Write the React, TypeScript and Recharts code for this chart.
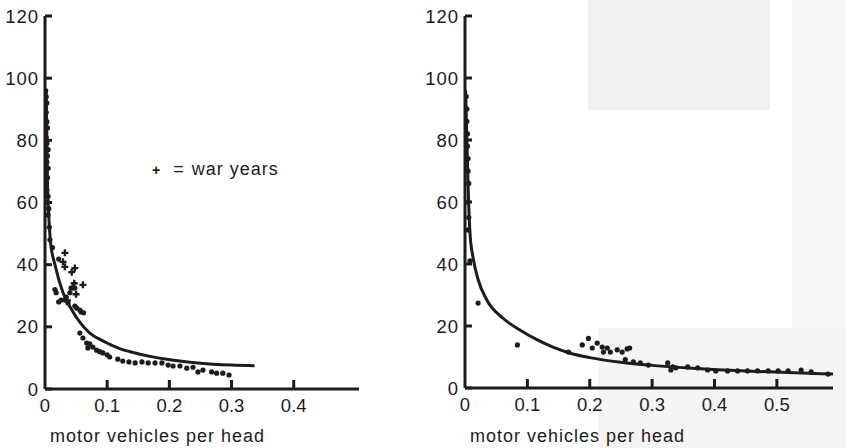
import { ScatterChart, Scatter, XAxis, YAxis } from 'recharts';

const INK = '#1c1c1c';
const FONT = '"Liberation Sans", Arial, Helvetica, sans-serif';

const yTicks = [0, 20, 40, 60, 80, 100, 120];
const leftXTicks = [0, 0.1, 0.2, 0.3, 0.4];
const rightXTicks = [0, 0.1, 0.2, 0.3, 0.4, 0.5];
const axisTitle = 'motor vehicles per head';
const legendLabel = 'war years';

// fitted curve, left panel
const leftCurve: [number, number][] = [
  [0.002, 96], [0.003, 80], [0.004, 66], [0.006, 56], [0.009, 47], [0.016, 40],
  [0.029, 31], [0.043, 25.5], [0.056, 21.5], [0.072, 18], [0.09, 15.8], [0.104, 14.4],
  [0.12, 13], [0.137, 12], [0.169, 10.5], [0.201, 9.4], [0.233, 8.6], [0.27, 8],
  [0.3, 7.7], [0.337, 7.5],
];

// peacetime years, left panel
const leftDots: [number, number][] = [
  [0.001, 96], [0.002, 94], [0.003, 92], [0.002, 89], [0.003, 86], [0.004, 84],
  [0.002, 81], [0.003, 79], [0.005, 77], [0.004, 75], [0.003, 73], [0.005, 71],
  [0.004, 68], [0.002, 66], [0.003, 64], [0.005, 62], [0.004, 60], [0.006, 58],
  [0.005, 56], [0.007, 52], [0.008, 48], [0.012, 45.5],
  [0.022, 41.8], [0.016, 32], [0.018, 31], [0.042, 32.5], [0.048, 32.5], [0.04, 31],
  [0.034, 29.6], [0.026, 28.6], [0.022, 28], [0.032, 28.6], [0.037, 27.7],
  [0.048, 26.7], [0.051, 26], [0.058, 24.8], [0.056, 25.4], [0.062, 24.5],
  [0.056, 18], [0.061, 16.4], [0.067, 14.8], [0.069, 13.2], [0.072, 14.5],
  [0.077, 13.5], [0.083, 12.5], [0.088, 12], [0.093, 11.6], [0.1, 11], [0.104, 10.3],
  [0.117, 9.6], [0.125, 9], [0.135, 8.7], [0.145, 8.4], [0.156, 8.7], [0.166, 8.4],
  [0.177, 8.4], [0.188, 8.4], [0.198, 7.7], [0.206, 7.4], [0.217, 7.4], [0.228, 6.7],
  [0.238, 7], [0.246, 5.5], [0.254, 6.1], [0.268, 5.5], [0.276, 5.1], [0.286, 5.1],
  [0.296, 4.5],
];

// war years, left panel
const leftWarYears: [number, number][] = [
  [0.029, 40.9], [0.032, 43.8], [0.032, 39.3], [0.043, 37.6], [0.048, 38.9],
  [0.061, 33.5], [0.045, 32.8], [0.05, 30.5], [0.036, 28.5], [0.047, 34],
];

// fitted curve, right panel
const rightCurve: [number, number][] = [
  [0.001, 96], [0.003, 80], [0.005, 65], [0.008, 50], [0.013, 42], [0.021, 35],
  [0.035, 28.4], [0.061, 22.5], [0.088, 18.7], [0.116, 15.5], [0.142, 13.1],
  [0.169, 11.2], [0.2, 9.8], [0.25, 8.3], [0.3, 7.3], [0.37, 6.3], [0.45, 5.5],
  [0.53, 4.9], [0.59, 4.5],
];

const rightDots: [number, number][] = [
  [0.002, 94], [0.003, 90], [0.003, 86], [0.004, 82], [0.004, 78], [0.005, 74],
  [0.005, 70], [0.006, 66], [0.004, 60], [0.006, 55], [0.005, 51], [0.008, 41],
  [0.021, 27.4], [0.084, 13.9], [0.166, 11.6], [0.198, 16], [0.188, 13.9],
  [0.204, 12.9], [0.212, 14.5], [0.22, 13.2], [0.228, 12.9], [0.233, 11.6],
  [0.222, 11.6], [0.244, 12.3], [0.252, 11.6], [0.26, 12.6], [0.264, 12.9],
  [0.257, 9.2], [0.27, 8.4], [0.281, 8.1], [0.294, 7.4], [0.325, 8.1],
  [0.333, 6.8], [0.33, 5.8], [0.338, 6.5], [0.357, 6.8], [0.373, 6.5],
  [0.389, 5.8], [0.402, 5.5], [0.421, 5.5], [0.437, 5.5], [0.453, 5.5],
  [0.469, 5.5], [0.486, 5.5], [0.502, 5.5], [0.518, 5.5], [0.539, 5.8],
  [0.555, 5.2], [0.582, 4.5],
];

const toPts = (rows: [number, number][]) => rows.map(([x, y]) => ({ x, y }));

function YTick({ x, y, payload }: any) {
  return (
    <g>
      <line x1={x + 6} x2={x + 13} y1={y} y2={y} stroke={INK} strokeWidth={3} />
      <text x={x} y={y} dy="0.36em" textAnchor="end" fontSize={18.5} letterSpacing={1}
        fill={INK} fontFamily={FONT}>
        {payload.value}
      </text>
    </g>
  );
}

function XTick({ x, y, payload }: any) {
  return (
    <g>
      {payload.value !== 0 && (
        <line x1={x} x2={x} y1={y - 9} y2={y - 18} stroke={INK} strokeWidth={3} />
      )}
      <text x={x} y={y} dy={14} textAnchor="middle" fontSize={18.5} fill={INK} fontFamily={FONT}>
        {payload.value}
      </text>
    </g>
  );
}

function AxisTitle(props: any) {
  const vb = props.viewBox || {};
  return (
    <text x={vb.x + 5} y={vb.y + vb.height - 6} fontSize={18} letterSpacing={1}
      fill={INK} fontFamily={FONT}>
      {axisTitle}
    </text>
  );
}

const Dot = (p: any) => <circle cx={p.cx} cy={p.cy} r={2.6} fill={INK} />;
const Cross = (p: any) => (
  <path d={`M${p.cx - 3.5},${p.cy}H${p.cx + 3.5}M${p.cx},${p.cy - 3.5}V${p.cy + 3.5}`}
    stroke={INK} strokeWidth={2.4} />
);
const NoMark = () => <g />;

function Panel({ width, xMax, xTicks, xAxisHeight, curve, dots, war }: any) {
  return (
    <ScatterChart width={width} height={448} margin={{ top: 16, right: 0, bottom: 0, left: 0 }}>
      <XAxis type="number" dataKey="x" domain={[0, xMax]} ticks={xTicks} allowDataOverflow
        height={xAxisHeight} tickSize={0} tickMargin={9} tickLine={false}
        axisLine={{ stroke: INK, strokeWidth: 3 }} tick={<XTick />} label={AxisTitle} />
      <YAxis type="number" dataKey="y" domain={[0, 120]} ticks={yTicks} allowDataOverflow
        width={45} tickSize={0} tickMargin={6} tickLine={false}
        axisLine={{ stroke: INK, strokeWidth: 3 }} tick={<YTick />} />
      <Scatter data={toPts(curve)} shape={NoMark} line={{ stroke: INK, strokeWidth: 3 }}
        lineJointType="monotoneX" isAnimationActive={false} />
      <Scatter data={toPts(dots)} shape={Dot} isAnimationActive={false} />
      {war && <Scatter data={toPts(war)} shape={Cross} isAnimationActive={false} />}
    </ScatterChart>
  );
}

export default function App() {
  return (
    <div style={{ position: 'absolute', left: 0, top: 0, width: 846, height: 448, background: '#fff', overflow: 'hidden' }}>
      <div style={{ position: 'absolute', left: 588, top: 0, width: 182, height: 110, background: '#f0f0f0' }} />
      <div style={{ position: 'absolute', left: 598, top: 328, width: 248, height: 120, background: '#f5f5f5' }} />
      <div style={{ position: 'absolute', left: 792, top: 0, width: 54, height: 328, background: '#f8f8f8' }} />
      <div style={{ position: 'absolute', left: 0, top: 0 }}>
        <Panel width={359} xMax={0.505} xTicks={leftXTicks} xAxisHeight={59}
          curve={leftCurve} dots={leftDots} war={leftWarYears} />
      </div>
      <div style={{ position: 'absolute', left: 420, top: 0 }}>
        <Panel width={413} xMax={0.59} xTicks={rightXTicks} xAxisHeight={60}
          curve={rightCurve} dots={rightDots} />
      </div>
      <div style={{ position: 'absolute', left: 152, top: 159, fontFamily: FONT, fontSize: 18, letterSpacing: 1, color: INK, whiteSpace: 'nowrap' }}>
        <span style={{ fontWeight: 700, fontSize: 14 }}>+</span>
        <span style={{ marginLeft: 12 }}>=</span>
        <span style={{ marginLeft: 7 }}>{legendLabel}</span>
      </div>
    </div>
  );
}
